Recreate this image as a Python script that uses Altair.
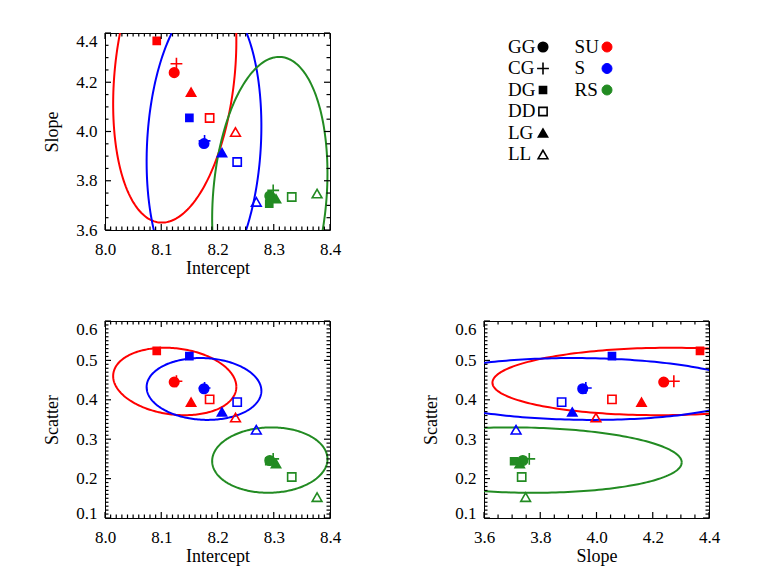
import numpy as np
import pandas as pd
import altair as alt

# ---------------- data ----------------
groups = ["SU", "S", "RS"]
group_colors = ["#ff0000", "#0000ff", "#228b22"]
methods = ["GG", "CG", "DG", "DD", "LG", "LL"]
method_shapes = ["circle", "M-1,0H1M0,-1V1", "square", "square", "triangle-up", "triangle-up"]
method_filled = [True, False, True, False, True, False]
method_sizes = [90, 140, 50, 68, 85, 95]

# value order in each list: GG, CG, DG, DD, LG, LL
intercept_SU = [8.123, 8.127, 8.092, 8.186, 8.153, 8.232]
intercept_S = [8.176, 8.177, 8.150, 8.235, 8.208, 8.269]
intercept_RS = [8.293, 8.299, 8.292, 8.332, 8.304, 8.377]
slope_SU = [4.239, 4.275, 4.368, 4.055, 4.160, 3.998]
slope_S = [3.951, 3.962, 4.055, 3.876, 3.914, 3.714]
slope_RS = [3.738, 3.761, 3.707, 3.734, 3.727, 3.748]
scatter_SU = [0.445, 0.447, 0.524, 0.401, 0.394, 0.355]
scatter_S = [0.428, 0.430, 0.511, 0.394, 0.369, 0.324]
scatter_RS = [0.246, 0.250, 0.244, 0.204, 0.238, 0.153]

# error ellipses, order SU, S, RS: centre, half extent, correlation
ell_intercept_c = [8.124, 8.176, 8.293]
ell_intercept_r = [0.1095, 0.102, 0.1025]
ell_slope_c = [4.24, 3.95, 3.738]
ell_slope_r = [0.61, 0.597, 0.565]
ell_scatter_c = [0.4465, 0.4275, 0.247]
ell_scatter_r = [0.0856, 0.0785, 0.083]
rho_intercept_slope = [0.21, 0.12, 0.163]
rho_intercept_scatter = [-0.16, -0.06, 0.03]
rho_slope_scatter = [0.035, -0.058, -0.07]

intercept_ticks = [8.0, 8.1, 8.2, 8.3, 8.4]
slope_ticks = [3.6, 3.8, 4.0, 4.2, 4.4]
scatter_ticks = [0.1, 0.2, 0.3, 0.4, 0.5, 0.6]
intercept_minor_step = 0.01
slope_minor_step = 0.05
scatter_minor_step = 0.01

# ---------------- tables ----------------
vals = {"SU": (intercept_SU, slope_SU, scatter_SU),
        "S": (intercept_S, slope_S, scatter_S),
        "RS": (intercept_RS, slope_RS, scatter_RS)}
rows = []
for g in groups:
    I, Sl, Sc = vals[g]
    for i, m in enumerate(methods):
        rows.append({"group": g, "method": m, "intercept": I[i], "slope": Sl[i],
                     "scatter": Sc[i], "msize": method_sizes[i],
                     "fillkey": g if method_filled[i] else "none"})
pts = pd.DataFrame(rows)

tt = np.linspace(0, 2 * np.pi, 241)


def ellipse_df(xc, xr, yc, yr, rho):
    out = []
    for gi, g in enumerate(groups):
        ex = xc[gi] + xr[gi] * np.cos(tt)
        ey = yc[gi] + yr[gi] * (rho[gi] * np.cos(tt) + np.sqrt(1 - rho[gi] ** 2) * np.sin(tt))
        for k in range(len(tt)):
            out.append({"group": g, "k": k, "x": float(ex[k]), "y": float(ey[k])})
    return pd.DataFrame(out)


def minor(major, step):
    v = np.arange(major[0], major[-1] + step / 2, step)
    v = [round(float(a), 3) for a in v]
    return [a for a in v if all(abs(a - b) > 1e-6 for b in major)]


# ---------------- styling helpers ----------------
FONT = "Liberation Serif"
MAJ = 6.0
MIN = 3.5
TICKW = 1.2
PW = 225
PH = 197
color_scale = alt.Scale(domain=groups, range=group_colors)
fill_scale = alt.Scale(domain=groups + ["none"], range=group_colors + ["transparent"])
shape_scale = alt.Scale(domain=methods, range=method_shapes)


def sc(dom):
    return alt.Scale(domain=dom, nice=False, zero=False)


def label_axis(orient, values, title, baseline=None):
    horiz = orient in ("bottom", "top")
    kw = dict(orient=orient, values=values, grid=False, ticks=False,
              domain=True, domainColor="black", domainWidth=1,
              labels=True, labelFont=FONT, labelFontSize=17, labelColor="black",
              format=".1f", labelOverlap=False, labelFlush=False,
              labelPadding=(11 if horiz else 8),
              title=title, titleFont=FONT, titleFontSize=18, titleFontWeight="normal",
              titleColor="black", titlePadding=(2 if horiz else 14))
    if baseline is not None:
        kw["labelBaseline"] = baseline
    return alt.Axis(**kw)


def frame_axis(orient):
    return alt.Axis(orient=orient, grid=False, ticks=False, labels=False, title=None,
                    domain=True, domainColor="black", domainWidth=1)


def tick_layers(xdom, ydom, xmaj, xmin, ymaj, ymin):
    # inward tick marks on all four sides, drawn as short rules from the frame inwards
    xt = pd.DataFrame({"v": xmaj + xmin, "len": [MAJ] * len(xmaj) + [MIN] * len(xmin)})
    yt = pd.DataFrame({"v": ymaj + ymin, "len": [MAJ] * len(ymaj) + [MIN] * len(ymin)})
    out = []
    out.append(alt.Chart(xt).transform_calculate(y0=f"{PH}", y1=f"{PH} - datum.len").mark_rule(
        color="black", strokeWidth=TICKW).encode(
        x=alt.X("v:Q", scale=sc(xdom), axis=None),
        y=alt.Y("y0:Q", scale=None), y2=alt.Y2("y1:Q")))
    out.append(alt.Chart(xt).transform_calculate(y0="0", y1="datum.len").mark_rule(
        color="black", strokeWidth=TICKW).encode(
        x=alt.X("v:Q", scale=sc(xdom), axis=None),
        y=alt.Y("y0:Q", scale=None), y2=alt.Y2("y1:Q")))
    out.append(alt.Chart(yt).transform_calculate(x0="0", x1="datum.len").mark_rule(
        color="black", strokeWidth=TICKW).encode(
        y=alt.Y("v:Q", scale=sc(ydom), axis=None),
        x=alt.X("x0:Q", scale=None), x2=alt.X2("x1:Q")))
    out.append(alt.Chart(yt).transform_calculate(x0=f"{PW}", x1=f"{PW} - datum.len").mark_rule(
        color="black", strokeWidth=TICKW).encode(
        y=alt.Y("v:Q", scale=sc(ydom), axis=None),
        x=alt.X("x0:Q", scale=None), x2=alt.X2("x1:Q")))
    return out


def panel(xf, yf, xdom, ydom, xmaj, xmin, ymaj, ymin, xtitle, ytitle, ell, ybase):
    ell_layer = alt.Chart(ell).mark_line(clip=True, strokeWidth=2).encode(
        x=alt.X("x:Q", scale=sc(xdom), axis=None),
        y=alt.Y("y:Q", scale=sc(ydom), axis=None),
        color=alt.Color("group:N", scale=color_scale, legend=None),
        order=alt.Order("k:Q"),
    )
    p = alt.Chart(pts).mark_point(opacity=1, strokeWidth=1.6, clip=True).encode(
        x=alt.X(f"{xf}:Q", scale=sc(xdom), axis=label_axis("bottom", xmaj, xtitle)),
        y=alt.Y(f"{yf}:Q", scale=sc(ydom), axis=label_axis("left", ymaj, ytitle, ybase)),
        shape=alt.Shape("method:N", scale=shape_scale, legend=None),
        size=alt.Size("msize:Q", scale=None, legend=None),
        stroke=alt.Stroke("group:N", scale=color_scale, legend=None),
        fill=alt.Fill("fillkey:N", scale=fill_scale, legend=None),
    )
    frame = alt.Chart(pts).mark_point(opacity=0).encode(
        x=alt.X(f"{xf}:Q", scale=sc(xdom), axis=frame_axis("top")),
        y=alt.Y(f"{yf}:Q", scale=sc(ydom), axis=frame_axis("right")),
    )
    layers = [ell_layer, p, frame] + tick_layers(xdom, ydom, xmaj, xmin, ymaj, ymin)
    return alt.layer(*layers).resolve_axis(x="independent", y="independent").properties(
        width=PW, height=PH)


int_dom = [intercept_ticks[0], intercept_ticks[-1]]
slope_dom = [slope_ticks[0], slope_ticks[-1]]
scat_dom = [scatter_ticks[0], scatter_ticks[-1]]
int_min = minor(intercept_ticks, intercept_minor_step)
slope_min = minor(slope_ticks, slope_minor_step)
scat_min = minor(scatter_ticks, scatter_minor_step)

slope_base = {"condition": {"test": f"datum.value > {slope_ticks[-1] - 0.01}", "value": "top"},
              "value": "middle"}
scat_base = {"condition": [
    {"test": f"datum.value > {scatter_ticks[-1] - 0.005}", "value": "top"},
    {"test": f"datum.value < {scatter_ticks[0] + 0.005}", "value": "alphabetic"}],
    "value": "middle"}

TL = panel("intercept", "slope", int_dom, slope_dom, intercept_ticks, int_min,
           slope_ticks, slope_min, "Intercept", "Slope",
           ellipse_df(ell_intercept_c, ell_intercept_r, ell_slope_c, ell_slope_r, rho_intercept_slope),
           slope_base)
BL = panel("intercept", "scatter", int_dom, scat_dom, intercept_ticks, int_min,
           scatter_ticks, scat_min, "Intercept", "Scatter",
           ellipse_df(ell_intercept_c, ell_intercept_r, ell_scatter_c, ell_scatter_r, rho_intercept_scatter),
           scat_base)
BR = panel("slope", "scatter", slope_dom, scat_dom, slope_ticks, slope_min,
           scatter_ticks, scat_min, "Slope", "Scatter",
           ellipse_df(ell_slope_c, ell_slope_r, ell_scatter_c, ell_scatter_r, rho_slope_scatter),
           scat_base)

# ---------------- legend panel ----------------
leg_m = pd.DataFrame({"label": methods, "row": list(range(len(methods))), "method": methods,
                      "msize": method_sizes,
                      "lfill": ["black" if f else "transparent" for f in method_filled]})
leg_g = pd.DataFrame({"label": groups, "row": list(range(len(groups))), "group": groups})
ysc = alt.Scale(domain=[-0.651, 8.512], reverse=True)
yenc = alt.Y("row:Q", scale=ysc, axis=None)

t1 = alt.Chart(leg_m).mark_text(align="left", baseline="middle", font=FONT, fontSize=19,
                                color="black").encode(x=alt.value(24), y=yenc, text="label:N")
s1 = alt.Chart(leg_m).mark_point(opacity=1, strokeWidth=1.6).encode(
    x=alt.value(59), y=yenc,
    shape=alt.Shape("method:N", scale=shape_scale, legend=None),
    size=alt.Size("msize:Q", scale=None, legend=None),
    stroke=alt.value("black"),
    fill=alt.Fill("lfill:N", scale=None),
)
t2 = alt.Chart(leg_g).mark_text(align="left", baseline="middle", font=FONT, fontSize=19,
                                color="black").encode(x=alt.value(90.6), y=yenc, text="label:N")
s2 = alt.Chart(leg_g).mark_point(opacity=1, strokeWidth=1, shape="circle", size=100).encode(
    x=alt.value(123), y=yenc,
    stroke=alt.Stroke("group:N", scale=color_scale, legend=None),
    fill=alt.Fill("group:N", scale=fill_scale, legend=None),
)
LEG = alt.layer(t1, s1, t2, s2).properties(width=PW, height=PH)

chart = alt.vconcat(
    alt.hconcat(TL, LEG, spacing=141),
    alt.hconcat(BL, BR, spacing=80),
    spacing=41,
).properties(
    padding={"left": 35, "top": 23, "right": 5, "bottom": 5}
).configure_view(stroke="transparent")

chart.save("out.html", embed_options={"renderer": "svg", "actions": False})
